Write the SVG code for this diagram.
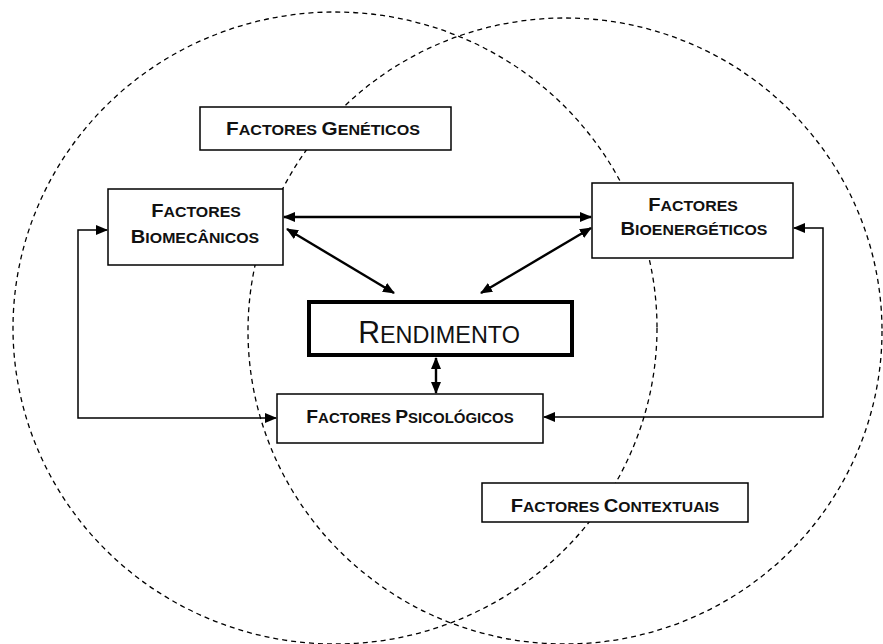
<svg xmlns="http://www.w3.org/2000/svg" width="883" height="644" viewBox="0 0 883 644">
<style>
.box{fill:#fff;stroke:#000;stroke-width:1.5}
.circ{fill:none;stroke:#000;stroke-width:1.3;stroke-dasharray:5 4}
.lbl{font-family:"Liberation Sans",Arial,sans-serif;font-weight:bold;fill:#111;text-anchor:middle}
.big{font-size:18px}
.sm{font-size:14px}
.big2{font-size:19px}
.sm2{font-size:15px}
.conn{fill:none;stroke:#000;stroke-width:2.4}
.thin{fill:none;stroke:#000;stroke-width:1.5}
</style>
<defs>
<marker id="ah" markerUnits="userSpaceOnUse" markerWidth="12" markerHeight="10" refX="11" refY="5" orient="auto-start-reverse" viewBox="0 0 12 10">
<path d="M0,0 L12,5 L0,10 z" fill="#000"/>
</marker>
</defs>
<rect width="883" height="644" fill="#fff"/>
<g id="circles">
<ellipse class="circ" cx="335" cy="328" rx="322" ry="316"/>
<ellipse class="circ" cx="565" cy="331" rx="317" ry="313"/>
</g>
<g id="geneticos">
<rect class="box" x="200" y="107" width="251" height="43"/>
<text class="lbl" transform="translate(323,135) scale(1.15,1)"><tspan class="big">F</tspan><tspan class="sm">ACTORES </tspan><tspan class="big">G</tspan><tspan class="sm">ENÉTICOS</tspan></text>
</g>
<g id="biomecanicos">
<rect class="box" x="108" y="189" width="175" height="76"/>
<text class="lbl" transform="translate(196,217) scale(1.06,1)"><tspan class="big2">F</tspan><tspan class="sm2">ACTORES</tspan></text>
<text class="lbl" transform="translate(195,243) scale(1.06,1)"><tspan class="big2">B</tspan><tspan class="sm2">IOMECÂNICOS</tspan></text>
</g>
<g id="bioenergeticos">
<rect class="box" x="592" y="183" width="201" height="75"/>
<text class="lbl" transform="translate(693,211) scale(1.06,1)"><tspan class="big2">F</tspan><tspan class="sm2">ACTORES</tspan></text>
<text class="lbl" transform="translate(694,235) scale(1.06,1)"><tspan class="big2">B</tspan><tspan class="sm2">IOENERGÉTICOS</tspan></text>
</g>
<g id="rendimento">
<rect x="309" y="302" width="263" height="53" fill="#fff" stroke="#000" stroke-width="4"/>
<text transform="translate(439,343) scale(0.975,1)" text-anchor="middle" font-family="Liberation Sans, Arial, sans-serif" fill="#111"><tspan font-size="31">R</tspan><tspan font-size="24">ENDIMENTO</tspan></text>
</g>
<g id="psicologicos">
<rect class="box" x="277" y="394" width="266" height="49"/>
<text class="lbl" transform="translate(410,423) scale(1.07,1)"><tspan class="big">F</tspan><tspan class="sm">ACTORES </tspan><tspan class="big">P</tspan><tspan class="sm">SICOLÓGICOS</tspan></text>
</g>
<g id="contextuais">
<rect class="box" x="482" y="483" width="266" height="39"/>
<text class="lbl" transform="translate(615,512) scale(1.12,1)"><tspan class="big">F</tspan><tspan class="sm">ACTORES </tspan><tspan class="big">C</tspan><tspan class="sm">ONTEXTUAIS</tspan></text>
</g>
<g id="connectors">
<path class="conn" d="M284,217 H591" marker-start="url(#ah)" marker-end="url(#ah)"/>
<path class="conn" d="M287,229 L394,293" marker-start="url(#ah)" marker-end="url(#ah)"/>
<path class="conn" d="M591,228 L481,293" marker-start="url(#ah)" marker-end="url(#ah)"/>
<path class="conn" d="M436,358 V393" marker-start="url(#ah)" marker-end="url(#ah)"/>
<path class="thin" d="M107,230 H78 V418 H276" marker-start="url(#ah)" marker-end="url(#ah)"/>
<path class="thin" d="M794,228 H823 V417 H544" marker-start="url(#ah)" marker-end="url(#ah)"/>
</g>
</svg>
